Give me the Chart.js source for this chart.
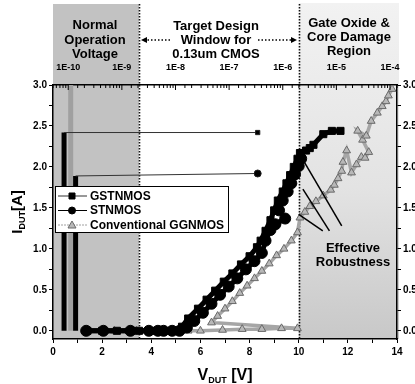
<!DOCTYPE html>
<html>
<head>
<meta charset="utf-8">
<script src="https://cdn.jsdelivr.net/npm/chart.js@4.4.1/dist/chart.umd.min.js"></script>
<style>
  body { margin: 0; background: #fff; }
  canvas { display: block; }
</style>
</head>
<body>
<canvas id="grafico" width="415" height="384"></canvas>
<script>
// TLP curves (V in volts, I in amps)
const gstV = [1.4, 2.0, 2.6, 3.2, 3.5, 4.0, 4.35, 4.8, 5.1, 5.25, 5.5, 5.9, 6.25, 6.6, 6.95, 7.3, 7.65, 8.0, 8.3, 8.45, 8.65, 8.85, 9.0, 9.15, 9.35, 9.5, 9.65, 9.8, 9.95, 10.05, 10.3, 10.45, 10.6, 11.0, 11.35, 11.7];
const gstI = [0, 0, 0, 0, 0, 0, 0, 0, 0, 0.05, 0.15, 0.27, 0.38, 0.49, 0.6, 0.7, 0.81, 0.91, 1.02, 1.1, 1.22, 1.35, 1.47, 1.59, 1.7, 1.8, 1.9, 2.0, 2.1, 2.17, 2.2, 2.23, 2.27, 2.4, 2.44, 2.44];

const stnV = [1.35, 2.05, 3.15, 3.9, 4.27, 4.5, 4.85, 5.15, 5.45, 5.75, 6.1, 6.45, 6.8, 7.15, 7.5, 7.85, 8.2, 8.5, 8.65, 8.85, 9.05, 9.45, 9.2, 9.35, 9.55, 9.7, 9.85, 10.0, 10.1];
const stnI = [0, 0, 0, 0, 0, 0, 0, 0, 0.04, 0.12, 0.22, 0.33, 0.44, 0.54, 0.64, 0.75, 0.85, 0.95, 1.1, 1.23, 1.3, 1.37, 1.47, 1.59, 1.7, 1.8, 1.91, 2.01, 2.1];

const ggV = [1.3, 2.5, 3.4, 3.95, 4.5, 5.0, 5.5, 6.0, 6.9, 7.7, 8.5, 9.3, 9.95, 6.45, 6.7, 7.0, 7.3, 7.6, 7.9, 8.2, 8.5, 8.8, 9.1, 9.4, 9.7, 9.95, 10.05, 10.25, 10.45, 10.7, 11.0, 11.3, 11.45, 11.6, 11.75, 11.8, 11.95, 12.15, 12.35, 12.55, 12.7, 12.85, 12.6, 12.4, 12.75, 12.95, 13.2, 13.4, 13.55, 13.65, 13.8];
const ggI = [0, 0, 0, 0, 0, 0, 0, 0, 0.01, 0.02, 0.02, 0.03, 0.03, 0.1, 0.18, 0.27, 0.36, 0.46, 0.55, 0.64, 0.73, 0.82, 0.92, 1.0, 1.1, 1.2, 1.38, 1.45, 1.52, 1.58, 1.65, 1.72, 1.78, 1.86, 1.95, 2.06, 2.2, 1.93, 2.03, 2.12, 2.11, 2.18, 2.33, 2.44, 2.38, 2.56, 2.66, 2.74, 2.8, 2.87, 2.95];

// leakage traces
const gstLeakV = [0.45, 0.45, 8.33];
const gstLeakI = [0, 2.42, 2.42];
const stnLeakV = [0.92, 0.92, 8.33];
const stnLeakI = [0, 1.89, 1.92];
const ggLeakV = [0.72, 0.72];
const ggLeakI = [0, 3.0];

// "Effective Robustness" pointer lines
const robFromV = [10.05, 10.17, 10.0];
const robFromI = [2.15, 1.73, 1.42];
const robToV = [11.75, 11.25, 10.98];
const robToI = [1.28, 1.22, 1.22];

const normalRange = [0, 3.5];
const damageStart = 10;
const topTicksMin = 5.2e-11;
const topTicksMax = 1.35e-4;

const FONT = '"Liberation Sans", Arial, sans-serif';
Chart.defaults.font.family = FONT;
Chart.defaults.color = '#000';

const pts = (vs, is) => vs.map((v, i) => ({ x: v, y: is[i] }));

const robustLines = robFromV.map((v, i) => ({
  data: pts([v, robToV[i]], [robFromI[i], robToI[i]]),
  borderColor: '#000',
  borderWidth: 1.5,
  pointRadius: 0
}));

const datasets = [
  ...robustLines,
  {
    label: 'GSTNMOS', legend: true,
    data: pts(gstV, gstI),
    borderColor: '#000', backgroundColor: '#000', borderWidth: 5,
    pointStyle: 'rect', pointRadius: 5, pointBorderWidth: 1,
    legendLine: '#333', legendLineWidth: 1
  },
  {
    label: 'STNMOS', legend: true,
    data: pts(stnV, stnI),
    borderColor: '#000', backgroundColor: '#000', borderWidth: 5,
    pointStyle: 'circle', pointRadius: 5.5, pointBorderWidth: 1,
    legendLine: '#000', legendLineWidth: 1
  },
  {
    data: pts(gstLeakV, gstLeakI),
    borderColor: '#222', backgroundColor: '#000', borderWidth: 1,
    segment: { borderWidth: c => c.p0.parsed.x === c.p1.parsed.x ? 5 : 1, borderColor: c => c.p0.parsed.x === c.p1.parsed.x ? '#000' : '#333' },
    pointStyle: 'rect', pointRadius: c => c.dataIndex === gstLeakV.length - 1 ? 3 : 0
  },
  {
    data: pts(stnLeakV, stnLeakI),
    borderColor: '#222', backgroundColor: '#000', borderWidth: 1,
    segment: { borderWidth: c => c.p0.parsed.x === c.p1.parsed.x ? 5 : 1, borderColor: c => c.p0.parsed.x === c.p1.parsed.x ? '#000' : '#333' },
    pointStyle: 'circle', pointRadius: c => c.dataIndex === stnLeakV.length - 1 ? 3.5 : 0
  },
  {
    label: 'Conventional GGNMOS', legend: true,
    data: pts(ggV, ggI),
    borderColor: '#a6a6a6', backgroundColor: '#b8b8b8', borderWidth: 3.5,
    pointStyle: 'triangle', pointRadius: 4.5, pointBorderColor: '#6a6a6a', pointBorderWidth: 1,
    legendLine: '#a0a0a0', legendLineWidth: 1, legendDash: [2, 1]
  },
  {
    data: pts(ggLeakV, ggLeakI),
    borderColor: '#a0a0a0', borderWidth: 5, pointRadius: 0
  }
];

function drawSub(ctx, x, y, parts) {
  // parts: [text, size, dy]
  let cx = x;
  parts.forEach(([t, size, dy]) => {
    ctx.font = `bold ${size}px ${FONT}`;
    ctx.fillText(t, cx, y + dy);
    cx += ctx.measureText(t).width;
  });
}
function subWidth(ctx, parts) {
  let w = 0;
  parts.forEach(([t, size]) => { ctx.font = `bold ${size}px ${FONT}`; w += ctx.measureText(t).width; });
  return w;
}

function dottedArrow(ctx, xFrom, xTo, y) {
  const dir = Math.sign(xTo - xFrom);
  ctx.save();
  ctx.strokeStyle = '#000';
  ctx.lineWidth = 1.6;
  ctx.setLineDash([1.5, 2]);
  ctx.beginPath();
  ctx.moveTo(xFrom, y);
  ctx.lineTo(xTo - dir * 4, y);
  ctx.stroke();
  ctx.setLineDash([]);
  ctx.fillStyle = '#000';
  ctx.beginPath();
  ctx.moveTo(xTo, y);
  ctx.lineTo(xTo - dir * 6, y - 3);
  ctx.lineTo(xTo - dir * 6, y + 3);
  ctx.closePath();
  ctx.fill();
  ctx.restore();
}

const decor = {
  id: 'decor',
  beforeDraw(chart) {
    const { ctx, chartArea: a, scales: { x } } = chart;
    ctx.save();
    ctx.fillStyle = '#fff';
    ctx.fillRect(0, 0, chart.width, chart.height);
    const n0 = x.getPixelForValue(normalRange[0]);
    const n1 = x.getPixelForValue(normalRange[1]);
    ctx.fillStyle = '#c2c2c2';
    ctx.fillRect(n0, 4, n1 - n0, a.bottom - 4);
    const d0 = x.getPixelForValue(damageStart);
    const g = ctx.createLinearGradient(0, 3, 0, a.bottom);
    g.addColorStop(0, '#f2f2f2');
    g.addColorStop(0.55, '#e3e3e3');
    g.addColorStop(1, '#c8c8c8');
    ctx.fillStyle = g;
    ctx.fillRect(d0, 3, a.right - d0 + 2, a.bottom - 3);
    ctx.restore();
  },
  beforeDatasetsDraw(chart) {
    const { ctx, chartArea: a, scales: { x } } = chart;
    ctx.save();
    ctx.strokeStyle = '#111';
    ctx.lineWidth = 1.6;
    ctx.setLineDash([1.5, 1.5]);
    [normalRange[1], damageStart].forEach(v => {
      const px = Math.round(x.getPixelForValue(v)) + 0.5;
      ctx.beginPath();
      ctx.moveTo(px, 4);
      ctx.lineTo(px, a.bottom);
      ctx.stroke();
    });
    ctx.restore();
  },
  afterDraw(chart) {
    const { ctx, chartArea: a, scales } = chart;
    ctx.save();

    // inward ticks on the top (log) axis
    const top = scales.x2;
    ctx.strokeStyle = '#000';
    ctx.lineWidth = 1;
    top.ticks.forEach(t => {
      const px = top.getPixelForValue(t.value);
      if (px < a.left || px > a.right) return;
      const major = t.label !== '';
      ctx.beginPath();
      ctx.moveTo(px, a.top);
      ctx.lineTo(px, a.top + (major ? 5 : 3));
      ctx.stroke();
    });

    // region captions
    ctx.fillStyle = '#000';
    ctx.textAlign = 'center';
    ctx.textBaseline = 'middle';
    ctx.font = `bold 13px ${FONT}`;
    [['Normal', 25], ['Operation', 40], ['Voltage', 54]].forEach(([t, y]) => ctx.fillText(t, 95, y));
    [['Target Design', 26], ['Window for', 40], ['0.13um CMOS', 54]].forEach(([t, y]) => ctx.fillText(t, 216, y));
    [['Gate Oxide &', 23], ['Core Damage', 37], ['Region', 51]].forEach(([t, y]) => ctx.fillText(t, 349, y));
    [['Effective', 248], ['Robustness', 262]].forEach(([t, y]) => ctx.fillText(t, 353, y));

    dottedArrow(ctx, 170, 141, 40);
    dottedArrow(ctx, 258, 297, 40);

    // legend
    ctx.fillStyle = '#fff';
    ctx.fillRect(55.5, 186.5, 173, 46);
    ctx.strokeStyle = '#000';
    ctx.lineWidth = 1;
    ctx.strokeRect(55.5, 186.5, 173, 46);
    const items = chart.data.datasets.filter(d => d.legend);
    items.forEach((d, i) => {
      const y = 196 + i * 14.5;
      ctx.save();
      ctx.strokeStyle = d.legendLine;
      ctx.lineWidth = d.legendLineWidth;
      ctx.setLineDash(d.legendDash || []);
      ctx.beginPath();
      ctx.moveTo(58, y);
      ctx.lineTo(87, y);
      ctx.stroke();
      ctx.restore();
      ctx.fillStyle = d.backgroundColor;
      ctx.strokeStyle = d.pointBorderColor || d.borderColor;
      ctx.beginPath();
      if (d.pointStyle === 'rect') {
        ctx.rect(69, y - 3, 6, 6);
      } else if (d.pointStyle === 'circle') {
        ctx.arc(72, y, 3.5, 0, Math.PI * 2);
      } else {
        ctx.moveTo(72, y - 4);
        ctx.lineTo(76, y + 3);
        ctx.lineTo(68, y + 3);
        ctx.closePath();
      }
      ctx.fill();
      ctx.stroke();
      ctx.fillStyle = '#000';
      ctx.textAlign = 'left';
      ctx.font = `bold 12px ${FONT}`;
      ctx.fillText(d.label, 90, y + 0.5);
    });

    // axis titles with subscripts
    ctx.textAlign = 'left';
    ctx.textBaseline = 'alphabetic';
    ctx.fillStyle = '#000';
    const xParts = [['V', 16, 0], ['DUT', 9, 3], [' [V]', 16, 0]];
    drawSub(ctx, 225 - subWidth(ctx, xParts) / 2, 380, xParts);

    const yParts = [['I', 15, 0], ['DUT', 9, 3], ['[A]', 15, 0]];
    ctx.save();
    ctx.translate(22, 212);
    ctx.rotate(-Math.PI / 2);
    drawSub(ctx, -subWidth(ctx, yParts) / 2, 0, yParts);
    ctx.restore();

    ctx.restore();
  }
};

const tickFont = { size: 10, weight: 'bold' };
const yTicks = {
  stepSize: 0.25,
  includeBounds: false,
  font: tickFont,
  padding: 2,
  callback: v => (Math.abs(v * 2 - Math.round(v * 2)) < 1e-6 ? v.toFixed(1) : '')
};
const axisGrid = { drawOnChartArea: false, tickLength: 4, color: '#000', lineWidth: 1 };

new Chart(document.getElementById('grafico'), {
  type: 'line',
  data: { datasets },
  options: {
    responsive: false,
    animation: false,
    parsing: false,
    layout: { padding: 0 },
    elements: { line: { tension: 0 } },
    plugins: { legend: { display: false }, tooltip: { enabled: false } },
    scales: {
      x: {
        type: 'linear', position: 'bottom', min: 0, max: 14,
        ticks: { stepSize: 1, font: tickFont, padding: 3, maxRotation: 0, callback: v => (v % 2 === 0 ? v : '') },
        grid: axisGrid,
        border: { color: '#000', width: 1.5 },
        afterFit: s => { s.height = 45; }
      },
      x2: {
        type: 'logarithmic', position: 'top', min: topTicksMin, max: topTicksMax,
        ticks: {
          autoSkip: false, maxRotation: 0, padding: 4, font: { size: 9, weight: 'bold' },
          callback: v => {
            const e = Math.log10(v);
            return Math.abs(e - Math.round(e)) < 1e-6 ? '1E' + Math.round(e) : '';
          }
        },
        grid: { display: false },
        border: { display: true, color: '#000', width: 1.5 },
        afterFit: s => { s.height = 85; }
      },
      y: {
        type: 'linear', position: 'left', min: -0.1, max: 3.0,
        ticks: yTicks,
        grid: axisGrid,
        border: { color: '#000', width: 1.5 },
        afterFit: s => { s.width = 53; }
      },
      y2: {
        type: 'linear', position: 'right', min: -0.1, max: 3.0,
        ticks: yTicks,
        grid: axisGrid,
        border: { color: '#000', width: 1.5 },
        afterFit: s => { s.width = 18; }
      }
    }
  },
  plugins: [decor]
});
</script>
</body>
</html>
